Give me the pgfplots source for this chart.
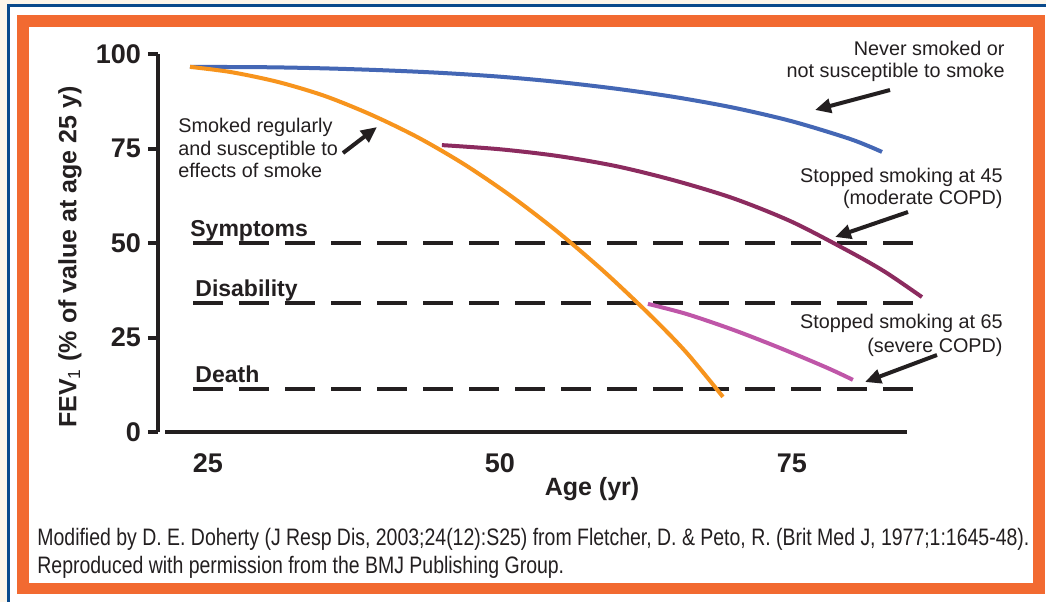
\documentclass[border=0pt]{standalone}
\usepackage{fontspec}
\setmainfont{Liberation Sans}
\newfontfamily\capfont{Liberation Sans}
\usepackage{graphicx}
\usepackage{pgfplots}
\pgfplotsset{compat=1.18}
\usetikzlibrary{arrows.meta}
\definecolor{cream}{HTML}{FDF6EA}
\definecolor{frameblue}{HTML}{0A4A8C}
\definecolor{frameorange}{HTML}{F26A31}
\definecolor{txt}{HTML}{231F20}
\definecolor{cblue}{HTML}{4467B5}
\definecolor{corange}{HTML}{F7941D}
\definecolor{cpurple}{HTML}{8C2B5F}
\definecolor{cpink}{HTML}{BF56A8}
\newlength\capw
\begin{document}
\settowidth{\capw}{\capfont\fontsize{11.9}{14}\selectfont Modified by D. E. Doherty (J Resp Dis, 2003;24(12):S25) from Fletcher, D. \& Peto, R. (Brit Med J, 1977;1:1645-48).}%
\pgfmathsetmacro\sx{496/\capw}%
\begin{tikzpicture}
\begin{scope}[x=0.5pt,y=-0.5pt]
\useasboundingbox (0,0) rectangle (1046,602);
\fill[cream] (0,0) rectangle (1046,602);
\fill[white] (10,7) rectangle (1046,602);
\fill[frameblue] (7,4) rectangle (1046,7);
\fill[frameblue] (7,4) rectangle (10,602);
\fill[frameorange] (17,15) rectangle (1045,594);
\fill[white] (29,27) rectangle (1033,583);
\end{scope}
\begin{axis}[
  at={(79pt,-216pt)}, anchor=south west,
  scale only axis, width=374.5pt, height=189pt,
  xmin=20.72, xmax=84.85, ymin=0, ymax=100,
  axis lines*=left,
  x axis line style={draw=none},
  y axis line style={line width=2pt, color=txt},
  ytick={0,25,50,75,100},
  yticklabels={\textbf{0},\textbf{25},\textbf{50},\textbf{75},\textbf{100}},
  xtick={25,50,75},
  xticklabels={\textbf{25},\textbf{50},\textbf{75}},
  xtick style={draw=none},
  ytick style={line width=2pt, color=txt},
  tick align=outside, major tick length=5pt,
  ticklabel style={font=\fontsize{13.5}{16}\selectfont, text=txt},
  xticklabel style={yshift=-2.5pt},
  clip=false,
  xlabel={\textbf{Age (yr)}},
  xlabel style={at={(axis description cs:0.5795,-0.151)}, anchor=center, font=\fontsize{12.5}{15}\selectfont, text=txt},
  ylabel={\textbf{FEV\textsubscript{\mdseries 1} (\% of value at age 25 y)}},
  ylabel style={at={(axis description cs:-0.1175,0.463)}, anchor=center, font=\fontsize{12.5}{15}\selectfont, text=txt},
]
% reference lines
\addplot[line width=2pt, dash pattern=on 15pt off 8pt, txt] coordinates {(23.72,50) (85.79,50)};
\addplot[line width=2pt, dash pattern=on 15pt off 8pt, txt] coordinates {(23.72,34) (85.79,34)};
\addplot[line width=2pt, dash pattern=on 15pt off 8pt, txt] coordinates {(23.72,11.5) (85.79,11.5)};
% curves
\addplot[smooth, line width=2pt, cblue] coordinates {
(23.46,96.6) (30,96.5) (35,96.2) (40,95.7) (45,95.0) (50,94.0) (55,92.6) (60,90.8) (65,88.6) (70,85.8) (75,82.2) (80,77.5) (82.71,74.1)};
\addplot[smooth, line width=2pt, corange] coordinates {
(23.46,96.6) (27,95.2) (31,92.6) (35,88.9) (39,83.9) (43,77.9) (47,70.7) (51,62.3) (55,52.8) (59,42.2) (63,30.5) (66,20.9) (69.09,9.3)};
\addplot[smooth, line width=2pt, cpurple] coordinates {
(45.03,75.9) (50,74.8) (55,73.0) (60,70.3) (65,66.5) (70,61.8) (75,55.6) (80,47.6) (83,42.3) (86.13,35.7)};
\addplot[smooth, line width=2pt, cpink] coordinates {
(62.67,33.9) (66,31.2) (70,27.0) (74,22.2) (78,17.0) (80.22,13.8)};
% axis x line
\draw[line width=2pt, txt] (axis cs:21.32,0) -- (axis cs:84.85,0);
% level labels
\node[anchor=base west, inner sep=0, font=\fontsize{11.5}{13}\selectfont\bfseries, text=txt] at (axis cs:23.46,51.85) {Symptoms};
\node[anchor=base west, inner sep=0, font=\fontsize{11.5}{13}\selectfont\bfseries, text=txt] at (axis cs:23.89,35.98) {Disability};
\node[anchor=base west, inner sep=0, font=\fontsize{11.5}{13}\selectfont\bfseries, text=txt] at (axis cs:23.89,13.2) {Death};
\end{axis}
\begin{scope}[x=0.5pt,y=-0.5pt, every node/.style={inner sep=0, text=txt, font=\fontsize{9.9}{12}\selectfont}]
\node[anchor=base west] at (178,132) {Smoked regularly};
\node[anchor=base west] at (178,155) {and susceptible to};
\node[anchor=base west] at (178,177) {effects of smoke};
\node[anchor=base east] at (1005,55) {Never smoked or};
\node[anchor=base east] at (1005,77) {not susceptible to smoke};
\node[anchor=base east] at (1003,182) {Stopped smoking at 45};
\node[anchor=base east] at (1003,204) {(moderate COPD)};
\node[anchor=base east] at (1003,328) {Stopped smoking at 65};
\node[anchor=base east] at (1003,352) {(severe COPD)};
\draw[line width=2pt, txt, -{Triangle[length=8pt,width=7pt]}] (343,153) -- (377,127);
\draw[line width=2pt, txt, -{Triangle[length=8pt,width=7pt]}] (890,90) -- (815,110);
\draw[line width=2pt, txt, -{Triangle[length=8pt,width=7pt]}] (908,212) -- (835,237);
\draw[line width=2pt, txt, -{Triangle[length=8pt,width=7pt]}] (937,355) -- (865,382);
\node[anchor=base west] at (37,545) {\scalebox{\sx}[1]{\capfont\fontsize{11.9}{14}\selectfont Modified by D. E. Doherty (J Resp Dis, 2003;24(12):S25) from Fletcher, D. \& Peto, R. (Brit Med J, 1977;1:1645-48).}};
\node[anchor=base west] at (37,573) {\scalebox{\sx}[1]{\capfont\fontsize{11.9}{14}\selectfont Reproduced with permission from the BMJ Publishing Group.}};
\end{scope}
\end{tikzpicture}
\end{document}
